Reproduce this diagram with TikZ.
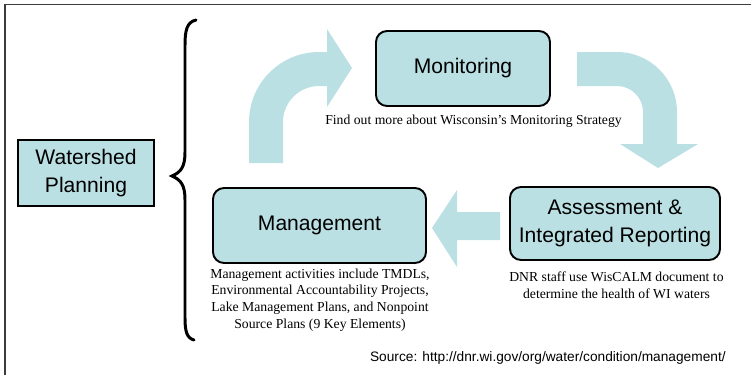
\documentclass[tikz,border=0pt]{standalone}
\usepackage{fontspec}
\setmainfont{Liberation Serif}
\setsansfont{Liberation Sans}
\definecolor{paleblue}{RGB}{186,224,227}
\definecolor{framegray}{RGB}{60,60,60}
\begin{document}
\begin{tikzpicture}[x=0.2mm, y=-0.2mm,
    stage/.style={draw, line width=1.1pt, fill=paleblue, rounded corners=2.2mm,
      align=center, font=\sffamily\fontsize{12}{15.5}\selectfont, inner sep=0pt},
    note/.style={align=center, font=\fontsize{7.8}{9.5}\selectfont, inner sep=0pt},
    flow/.style={fill=paleblue, draw=none}]
    \useasboundingbox (0,0) rectangle (751,375);
    % Rahmen oben und links
    \draw[framegray, line width=0.9pt] (751,4.5) -- (5,4.5) -- (5,375);
    % Planung
    \node[draw, line width=0.9pt, fill=paleblue, minimum width=27.2mm, minimum height=13.2mm,
      align=center, font=\sffamily\fontsize{12}{15.5}\selectfont, inner sep=0pt]
      (watershed) at (86,173) {Watershed\\Planning};
    % geschweifte Klammer
    \draw[line width=1.7pt, line cap=round]
      (196,20) .. controls (187,22) and (185,30) .. (185,45) -- (185,152)
      .. controls (185,167) and (181,172) .. (172,176)
      .. controls (181,180) and (185,185) .. (185,200) -- (185,318)
      .. controls (185,332) and (187,338) .. (194,340);
    % Kreislauf
    \node[stage, minimum width=34.8mm, minimum height=15mm] (monitoring) at (463,68.5) {Monitoring};
    \node[stage, minimum width=42.6mm, minimum height=15mm] (management) at (319.5,225.5) {Management};
    \node[stage, minimum width=42mm, minimum height=14.6mm] (assessment) at (615,223.5)
      {Assessment \&\\Integrated Reporting};
    % Blockpfeile
    \fill[flow] (249,163) -- (249,122) arc[start angle=180, end angle=270, radius=70]
      -- (327,52) -- (327,29) -- (352,68) -- (327,107) -- (327,86) -- (319,86)
      arc[start angle=270, end angle=180, radius=36] -- (283,163) -- cycle;
    \fill[flow] (577,52) -- (617,52) arc[start angle=270, end angle=360, radius=60]
      -- (677,144) -- (698,144) -- (658,168) -- (620,144) -- (643,144) -- (643,112)
      arc[start angle=0, end angle=-90, radius=26] -- (577,86) -- cycle;
    \fill[flow] (500,212) -- (457,212) -- (457,190) -- (432,228) -- (457,267)
      -- (457,240) -- (500,240) -- cycle;
    % Hinweise
    \node[note] (monnote) at (473.5,121) {Find out more about Wisconsin's Monitoring Strategy};
    \node[note] (mannote) at (320,300) {Management activities include TMDLs,\\
      Environmental Accountability Projects,\\Lake Management Plans, and Nonpoint\\
      Source Plans (9 Key Elements)};
    \node[note] (assnote) at (616.5,285) {DNR staff use WisCALM document to\\
      determine the health of WI waters};
    \node[note, anchor=east, font=\sffamily\fontsize{7.8}{9}\selectfont] (source) at (726,358)
      {Source: http://dnr.wi.gov/org/water/condition/management/};
\end{tikzpicture}
\end{document}
